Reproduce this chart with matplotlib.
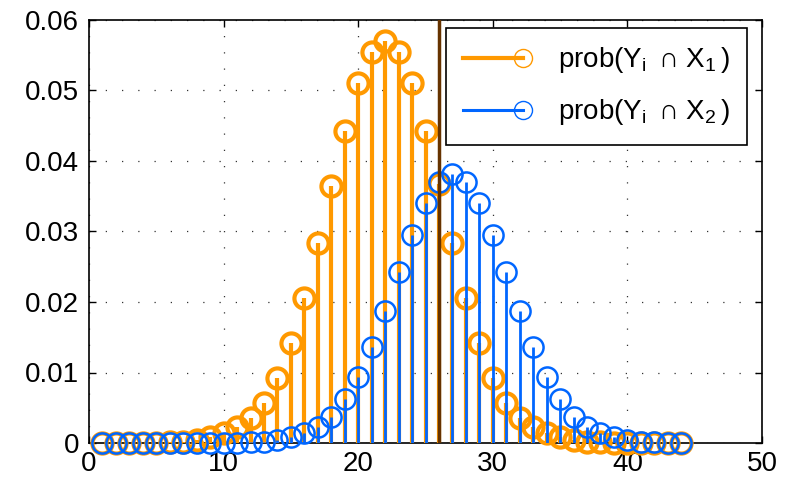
import matplotlib
matplotlib.use("Agg")
import matplotlib.pyplot as plt
import numpy as np
from matplotlib.lines import Line2D
from matplotlib.legend_handler import HandlerBase

plt.rcParams['font.family'] = ['Liberation Sans', 'DejaVu Sans']
plt.rcParams['mathtext.fontset'] = 'custom'
plt.rcParams['mathtext.rm'] = 'Liberation Sans'
plt.rcParams['mathtext.it'] = 'Liberation Sans'

x_vals = list(range(1, 45))
prob_x1 = [0, 0, 0, 0, 0, 0.0001, 0.0002, 0.0004, 0.0008, 0.0014,
           0.0023, 0.0035, 0.0057, 0.0092, 0.0142, 0.0205, 0.0283, 0.0364, 0.0443, 0.0511,
           0.0555, 0.0570, 0.0555, 0.0511, 0.0443, 0.0368, 0.0283, 0.0205, 0.0142, 0.0092,
           0.0057, 0.0035, 0.0023, 0.0014, 0.0008, 0.0004, 0.0002, 0.0001, 0, 0,
           0, 0, 0, 0]
prob_x2 = [0, 0, 0, 0, 0, 0, 0, 0, 0, 0,
           0, 0.0001, 0.0002, 0.0004, 0.0008, 0.0014, 0.0023, 0.0037, 0.0062, 0.0094,
           0.0136, 0.0187, 0.0243, 0.0295, 0.0340, 0.0370, 0.0382, 0.0370, 0.0340, 0.0295,
           0.0243, 0.0187, 0.0136, 0.0094, 0.0062, 0.0037, 0.0023, 0.0014, 0.0008, 0.0004,
           0.0002, 0.0001, 0, 0]
threshold_x = 26
labels = [r'prob(Y$_\mathregular{i}\,$ ∩ X$_\mathregular{1}\,$)',
          r'prob(Y$_\mathregular{i}\,$ ∩ X$_\mathregular{2}\,$)']
xticks = [0, 10, 20, 30, 40, 50]
yticks = [0, 0.01, 0.02, 0.03, 0.04, 0.05, 0.06]
ytick_labels = ['0', '0.01', '0.02', '0.03', '0.04', '0.05', '0.06']

ORANGE = '#FF9900'
BLUE = '#0066FF'
BROWN = '#663300'

fig = plt.figure(figsize=(7.88, 4.84), dpi=100)
ax = fig.add_axes([89 / 788, 1 - 443 / 484, 673 / 788, 423 / 484])

def draw_stem(xs, ys, color, lw, mew, z):
    m, s, b = ax.stem(xs, ys, basefmt=' ')
    plt.setp(s, color=color, linewidth=lw, zorder=z)
    plt.setp(m, marker='o', markersize=14.5, markerfacecolor='none',
             markeredgecolor=color, markeredgewidth=mew, zorder=z + 0.1, clip_on=False)
    b.set_visible(False)

draw_stem(x_vals, prob_x1, ORANGE, 3.0, 3.0, 3)
draw_stem(x_vals, prob_x2, BLUE, 2.0, 1.8, 4)

ax.axvline(threshold_x, color=BROWN, linewidth=2.5, zorder=5)

ax.set_xlim(0, 50)
ax.set_ylim(0, 0.06)
ax.set_xticks(xticks)
ax.set_yticks(yticks)
ax.set_yticklabels(ytick_labels)
ax.tick_params(direction='in', top=True, right=True, labelsize=20, length=5, width=1)
ax.tick_params(axis='y', pad=7)
ax.tick_params(axis='x', pad=6)
ax.grid(True, linestyle=(0, (1, 12)), color='#333333', linewidth=0.9)
for sp in ax.spines.values():
    sp.set_linewidth(1.2)


class StemHandler(HandlerBase):
    def __init__(self, color, lw):
        super().__init__()
        self.color = color
        self.lw = lw

    def create_artists(self, legend, orig_handle, xdescent, ydescent, width, height, fontsize, trans):
        y = height / 2 - ydescent
        ln = Line2D([-xdescent, width - xdescent], [y, y], color=self.color, linewidth=self.lw)
        mk = Line2D([width - xdescent], [y], marker='o', markersize=13,
                    markerfacecolor='none', markeredgecolor=self.color, markeredgewidth=1.0,
                    linestyle='none')
        ln.set_transform(trans)
        mk.set_transform(trans)
        return [ln, mk]

h1 = Line2D([], [], color=ORANGE)
h2 = Line2D([], [], color=BLUE)
leg = ax.legend([h1, h2], labels, loc='upper right', fontsize=20,
                bbox_to_anchor=((747 - 89) / 673, (443 - 28) / 423),
                handler_map={h1: StemHandler(ORANGE, 3.0), h2: StemHandler(BLUE, 2.2)},
                handlelength=2.16, handletextpad=1.26, borderpad=0.62, labelspacing=0.8,
                fancybox=False, framealpha=1, edgecolor='black', borderaxespad=0)
leg.get_frame().set_linewidth(1.2)
leg.set_zorder(10)

fig.savefig('out.png', dpi=100)
